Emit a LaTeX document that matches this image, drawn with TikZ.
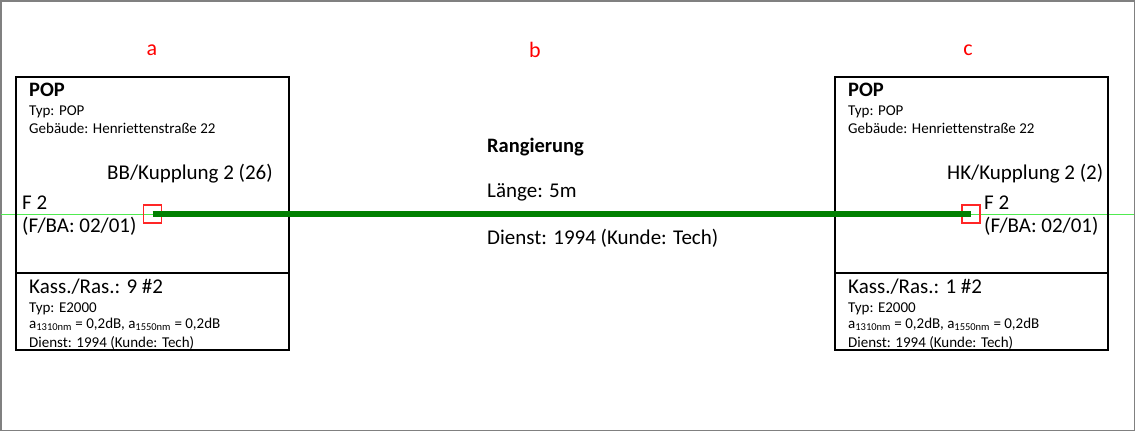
\documentclass[tikz,border=0pt]{standalone}
\usepackage{fontspec}
\setmainfont{Carlito}[Ligatures=NoCommon]
\definecolor{patchgreen}{RGB}{0,128,0}
\definecolor{fibregreen}{RGB}{80,235,80}
\begin{document}
\begin{tikzpicture}[x=1pt,y=-1pt,
    small/.style={anchor=base west,inner sep=0pt,font=\fontsize{15}{16}\selectfont},
    large/.style={anchor=base west,inner sep=0pt,font=\fontsize{21}{24}\selectfont},
    head/.style={anchor=base west,inner sep=0pt,font=\fontsize{20.5}{24}\selectfont\bfseries},
    segment/.style={inner sep=0pt,text=red,font=\fontsize{22}{26}\selectfont},
    port/.style={draw=red!85!white,line width=1.1pt,minimum size=18pt,inner sep=0pt},
    popbox/.style={draw,line width=1.2pt}]

    \useasboundingbox (0,0) rectangle (1136,432);
    \draw[gray,line width=1.5pt] (0.75,0.75) rectangle (1134.3,430.3);

    % Segment labels
    \node[segment] (segA) at (152,50) {a};
    \node[segment] (segB) at (535,50) {b};
    \node[segment] (segC) at (968,50) {c};

    % Fibre
    \coordinate (fibL) at (1,214.5);
    \coordinate (fibR) at (1134,214.5);
    \draw[fibregreen,line width=1.3pt] (fibL) -- (fibR);

    % LEFT BOX
    \draw[popbox] (16,77) rectangle (289,350);
    \draw[popbox] (16,273) -- (289,273);
    \node[head] (popA) at (29,96) {POP};
    \node[small] (typA) at (29,115) {Typ: POP};
    \node[small] (bldA) at (29,133) {Gebäude: Henriettenstraße 22};
    \node[large] (cplA) at (107,179) {BB/Kupplung 2 (26)};
    \node[large] (fibA) at (22,209) {F 2};
    \node[large] (fbaA) at (22,232) {(F/BA: 02/01)};
    \node[large] (kasA) at (29,293) {Kass./Ras.: 9 \#2};
    \node[small] (conA) at (29,312) {Typ: E2000};
    \node[small] (attA) at (29,328) {a\textsubscript{1310nm} = 0,2dB, a\textsubscript{1550nm} = 0,2dB};
    \node[small] (srvA) at (29,347) {Dienst: 1994 (Kunde: Tech)};
    \node[port] (portA) at (152.5,214) {};

    % RIGHT BOX
    \begin{scope}[shift={(819,0)}]
    \draw[popbox] (16,77) rectangle (289,350);
    \draw[popbox] (16,273) -- (289,273);
    \node[head] (popC) at (29,96) {POP};
    \node[small] (typC) at (29,115) {Typ: POP};
    \node[small] (bldC) at (29,133) {Gebäude: Henriettenstraße 22};
    \node[large] (cplC) at (128,179) {HK/Kupplung 2 (2)};
    \node[large] (fibC) at (165,209) {F 2};
    \node[large] (fbaC) at (165,232) {(F/BA: 02/01)};
    \node[large] (kasC) at (29,293) {Kass./Ras.: 1 \#2};
    \node[small] (conC) at (29,312) {Typ: E2000};
    \node[small] (attC) at (29,328) {a\textsubscript{1310nm} = 0,2dB, a\textsubscript{1550nm} = 0,2dB};
    \node[small] (srvC) at (29,347) {Dienst: 1994 (Kunde: Tech)};
    \node[port] (portC) at (152,214) {};
    \end{scope}

    % Patch cable
    \draw[patchgreen,line width=6.5pt] (portA.center) -- (portC.center);
    \node[head] (patB) at (487,152) {Rangierung};
    \node[large] (lenB) at (487,197) {Länge: 5m};
    \node[large] (srvB) at (487,244) {Dienst: 1994 (Kunde: Tech)};

\end{tikzpicture}
\end{document}
